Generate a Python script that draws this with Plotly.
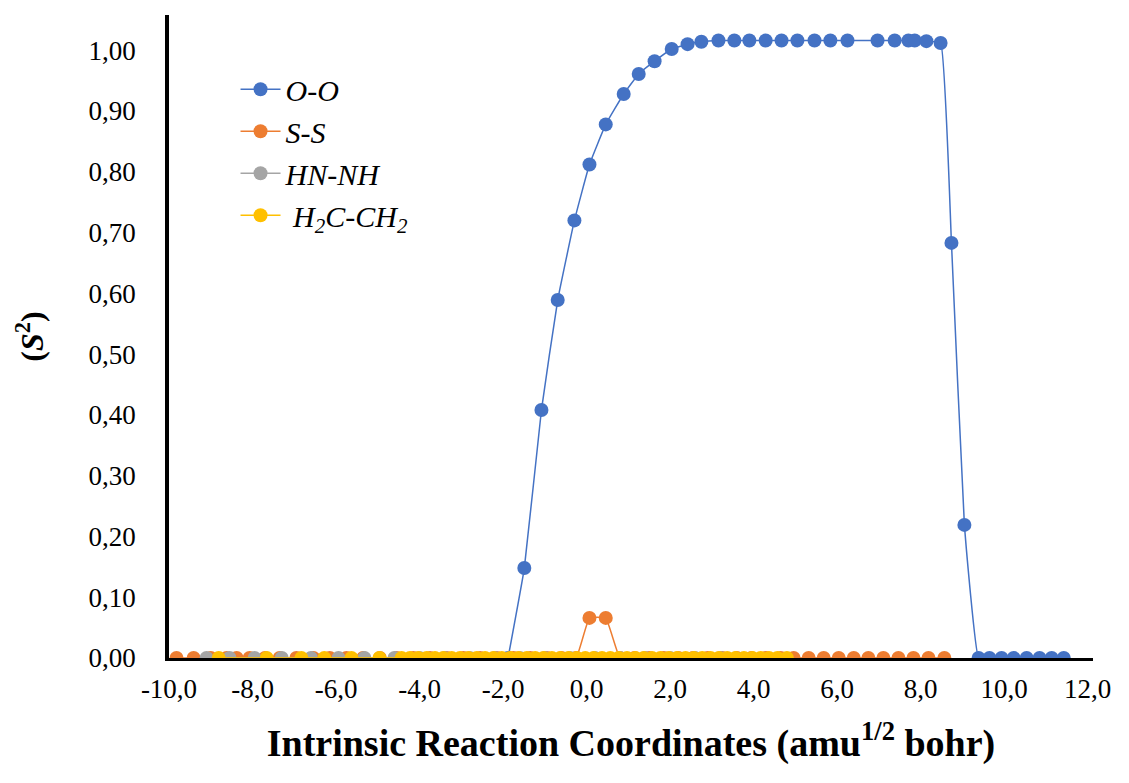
import plotly.graph_objects as go

# ---- data ----
oo_x = [-1.88, -1.49, -1.08, -0.69, -0.29, 0.07, 0.46, 0.89, 1.25, 1.63, 2.04, 2.42,
        2.75, 3.16, 3.54, 3.90, 4.29, 4.67, 5.05, 5.46, 5.84, 6.25, 6.97, 7.38, 7.71,
        7.86, 8.14, 8.48, 8.74, 9.05, 9.39, 9.65, 9.94, 10.23, 10.54, 10.85, 11.14, 11.43]
oo_y = [0.0, 0.148, 0.408, 0.589, 0.720, 0.812, 0.878, 0.928, 0.961, 0.982, 1.002, 1.010,
        1.014, 1.016, 1.016, 1.016, 1.016, 1.016, 1.016, 1.016, 1.016, 1.016, 1.016, 1.016, 1.016,
        1.016, 1.015, 1.012, 0.683, 0.219, 0.0, 0.0, 0.0, 0.0, 0.0, 0.0, 0.0, 0.0]

ss_x = [-9.82, -9.41, -9.00, -8.62, -8.38, -8.07, -7.70, -7.35, -6.95, -6.54, -6.15, -5.75,
        -5.35, -4.95, -4.55, -4.15, -3.75, -3.35, -2.95, -2.55, -2.15, -1.75, -1.35, -0.95,
        -0.60, -0.25, 0.07, 0.46, 0.80, 1.15, 1.50, 1.85, 2.20, 2.55, 2.90, 3.25, 3.60, 3.95,
        4.30, 4.65, 4.96, 5.32, 5.68, 6.04, 6.40, 6.75, 7.11, 7.47, 7.83, 8.19, 8.57]
ss_y = [0.0, 0.0, 0.0, 0.0, 0.0, 0.0, 0.0, 0.0, 0.0, 0.0, 0.0, 0.0,
        0.0, 0.0, 0.0, 0.0, 0.0, 0.0, 0.0, 0.0, 0.0, 0.0, 0.0, 0.0,
        0.0, 0.0, 0.066, 0.066, 0.0, 0.0, 0.0, 0.0, 0.0, 0.0, 0.0, 0.0, 0.0, 0.0,
        0.0, 0.0, 0.0, 0.0, 0.0, 0.0, 0.0, 0.0, 0.0, 0.0, 0.0, 0.0, 0.0]

nh_x = [-9.10, -8.55, -7.95, -7.30, -6.60, -5.94, -5.32, -4.60, -4.00, -3.40, -2.80,
        -2.20, -1.60, -1.00, -0.40, 0.20, 0.80, 1.40, 2.00, 2.60, 3.20]
nh_y = [0.0, 0.0, 0.0, 0.0, 0.0, 0.0, 0.0, 0.0, 0.0, 0.0, 0.0,
        0.0, 0.0, 0.0, 0.0, 0.0, 0.0, 0.0, 0.0, 0.0, 0.0]

ch_x = [-8.81, -7.66, -6.83, -6.28, -5.63, -4.96,
        -4.43, -4.23, -4.03, -3.83, -3.63, -3.43, -3.23, -3.03, -2.83, -2.63, -2.43, -2.23,
        -2.03, -1.83, -1.63, -1.43, -1.23, -1.03, -0.83, -0.63, -0.43, -0.23, -0.03, 0.17,
        0.37, 0.57, 0.77, 0.97, 1.17, 1.37, 1.57, 1.77, 1.97, 2.17, 2.37, 2.57, 2.77, 2.97,
        3.17, 3.37, 3.57, 3.77, 3.97, 4.17, 4.37, 4.57, 4.80]
ch_y = [0.0, 0.0, 0.0, 0.0, 0.0, 0.0,
        0.0, 0.0, 0.0, 0.0, 0.0, 0.0, 0.0, 0.0, 0.0, 0.0, 0.0, 0.0,
        0.0, 0.0, 0.0, 0.0, 0.0, 0.0, 0.0, 0.0, 0.0, 0.0, 0.0, 0.0,
        0.0, 0.0, 0.0, 0.0, 0.0, 0.0, 0.0, 0.0, 0.0, 0.0, 0.0, 0.0, 0.0, 0.0,
        0.0, 0.0, 0.0, 0.0, 0.0, 0.0, 0.0, 0.0, 0.0]

x_tickvals = [-10, -8, -6, -4, -2, 0, 2, 4, 6, 8, 10, 12]
x_ticktext = ["-10,0", "-8,0", "-6,0", "-4,0", "-2,0", "0,0", "2,0", "4,0", "6,0", "8,0", "10,0", "12,0"]
y_tickvals = [0.0, 0.1, 0.2, 0.3, 0.4, 0.5, 0.6, 0.7, 0.8, 0.9, 1.0]
y_ticktext = ["0,00", "0,10", "0,20", "0,30", "0,40", "0,50", "0,60", "0,70", "0,80", "0,90", "1,00"]

series = [
    ("<i>O-O</i>", oo_x, oo_y, "#4472C4"),
    ("<i>S-S</i>", ss_x, ss_y, "#ED7D31"),
    ("<i>HN-NH</i>", nh_x, nh_y, "#A5A5A5"),
    ("<i> H<sub>2</sub>C-CH<sub>2</sub></i>", ch_x, ch_y, "#FFC000"),
]

FONT = "Liberation Serif"

fig = go.Figure()
for name, xs, ys, col in series:
    fig.add_trace(go.Scatter(
        x=xs, y=ys, name=name, mode="lines+markers",
        line=dict(color=col, width=1.5, shape="spline", smoothing=0.3),
        marker=dict(color=col, size=14),
    ))

# page body has an 8px margin: figure is sized/offset to compensate
fig.update_layout(
    template="none",
    width=1121, height=775,
    margin=dict(l=161, r=36, t=7, b=125),
    paper_bgcolor="white", plot_bgcolor="white",
    font=dict(family=FONT, color="black", size=27),
    showlegend=True,
    legend=dict(x=0.072, y=0.925, xanchor="left", yanchor="top",
                font=dict(family=FONT, size=30, color="black"),
                bgcolor="rgba(0,0,0,0)", borderwidth=0, tracegroupgap=0, itemwidth=40),
    xaxis=dict(range=[-10, 12.13], tickvals=x_tickvals, ticktext=x_ticktext,
               automargin=False,
               showgrid=False, zeroline=False, showline=True, linecolor="black",
               linewidth=2.5, ticks="outside", ticklen=5, tickcolor="rgba(0,0,0,0)",
               tickfont=dict(family=FONT, size=27, color="black"),
               title=dict(text="<b>Intrinsic Reaction Coordinates (amu<sup>1/2</sup> bohr)</b>",
                          font=dict(family=FONT, size=38, color="black"), standoff=27)),
    yaxis=dict(range=[0, 1.058], tickvals=y_tickvals, ticktext=y_ticktext,
               automargin=False,
               showgrid=False, zeroline=False, showline=True, linecolor="black",
               linewidth=3.5, ticks="outside", ticklen=24, tickcolor="rgba(0,0,0,0)",
               tickfont=dict(family=FONT, size=27, color="black"),
               title=dict(text="<b>(<i>S</i><sup>2</sup>)</b>",
                          font=dict(family=FONT, size=32, color="black"), standoff=36)),
)

fig.write_html("out.html")
